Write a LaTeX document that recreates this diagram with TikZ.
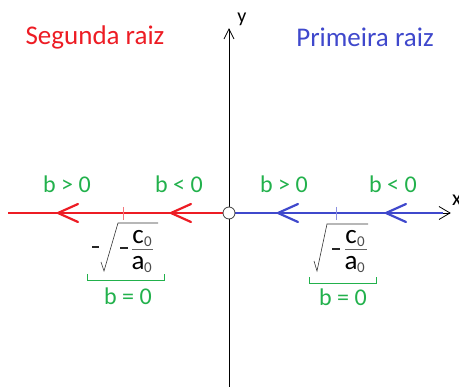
\documentclass[tikz,border=0pt]{standalone}
\usepackage{fontspec}
\setmainfont{Carlito}
\definecolor{rr}{RGB}{237,28,36}
\definecolor{bb}{RGB}{63,72,204}
\definecolor{gg}{RGB}{34,177,76}
\newcommand{\fsz}[1]{\fontsize{#1}{#1}\selectfont}
\begin{document}
\begin{tikzpicture}[x=1pt,y=-1pt,
  title/.style={inner sep=0pt,anchor=center,font=\fsz{27}},
  glab/.style={inner sep=0pt,text=gg,font=\fsz{24}},
  chev/.style={line width=2.2pt,line cap=round,line join=miter},
  axis/.style={line width=0.8pt,black},
  tick/.style={line width=0.6pt},
  fr/.style={inner sep=0pt,font=\fsz{27}},
  sub/.style={inner sep=0pt,font=\fsz{15}},
  brk/.style={line width=0.8pt,gg}]
\useasboundingbox (0,0) rectangle (459,387);
% axes
\coordinate (xl) at (8,213);
\coordinate (xr) at (450,213);
\coordinate (yb) at (229,387);
\coordinate (yt) at (229,29);
\draw[axis] (yb) -- (yt);
\draw[axis] (224,39) -- (yt) -- (234,39);
\node[inner sep=0pt,font=\fsz{20}] (ylab) at (242,19) {y};
\node[inner sep=0pt,font=\fsz{22},anchor=west] (xlab) at (452,200) {x};
% red half
\draw[rr,line width=2.6pt] (xl) -- (223,213);
\draw[rr,chev] (78,204) -- (58,213) -- (78,222);
\draw[rr,chev] (191,204) -- (171,213) -- (191,222);
\draw[rr!60,tick] (123,207) -- (123,220);
% blue half
\draw[bb,line width=2.6pt] (235,213) -- (443,213);
\draw[axis] (439,206.5) -- (xr) -- (439,219.5);
\draw[axis] (443,213) -- (xr);
\draw[bb,chev] (298,204) -- (278,213) -- (298,222);
\draw[bb,chev] (406,204) -- (386,213) -- (406,222);
\draw[bb!60,tick] (336,207) -- (336,220);
% origin
\node[circle,draw=black!75,fill=white,line width=0.8pt,minimum size=12pt,inner sep=0pt] (o) at (229,213) {};
% titles
\node[title,text=rr] (t1) at (95,37) {Segunda raiz};
\node[title,text=bb] (t2) at (365,37) {Primeira raiz};
% green labels
\node[glab] (g1) at (67,184) {b > 0};
\node[glab] (g2) at (179,184) {b < 0};
\node[glab] (g3) at (284,184) {b > 0};
\node[glab] (g4) at (393,184) {b < 0};
% left formula
\draw[line width=1.6pt,black!85] (92,247) -- (99,247);
\draw[line width=0.6pt,black!80] (101,262) -- (104,271) -- (118,223) -- (158,223);
\draw[line width=1.6pt,black!85] (120,248) -- (128,248);
\draw[line width=0.7pt,black!60] (132,249) -- (153,249);
\node[fr] (lc) at (138,237) {c};
\node[sub,text=black!70] (lc0) at (148,242) {0};
\node[fr] (la) at (138,263) {a};
\node[sub,text=black!70] (la0) at (148,268) {0};
\draw[brk] (87,274) -- (87,280) -- (164,280) -- (164,274);
\node[glab] (g5) at (128,296) {b = 0};
% right formula
\draw[line width=0.6pt,black!80] (314,261) -- (317,271) -- (327,224) -- (368,224);
\draw[line width=1.6pt,black!85] (332,249) -- (340,249);
\draw[line width=0.7pt,black!60] (345,249) -- (367,249);
\node[fr] (rc) at (351,237) {c};
\node[sub,text=black!70] (rc0) at (361,242) {0};
\node[fr] (ra) at (351,263) {a};
\node[sub,text=black!70] (ra0) at (361,268) {0};
\draw[brk] (309,277) -- (309,283) -- (376,283) -- (376,277);
\node[glab] (g6) at (343,297) {b = 0};
\end{tikzpicture}
\end{document}
